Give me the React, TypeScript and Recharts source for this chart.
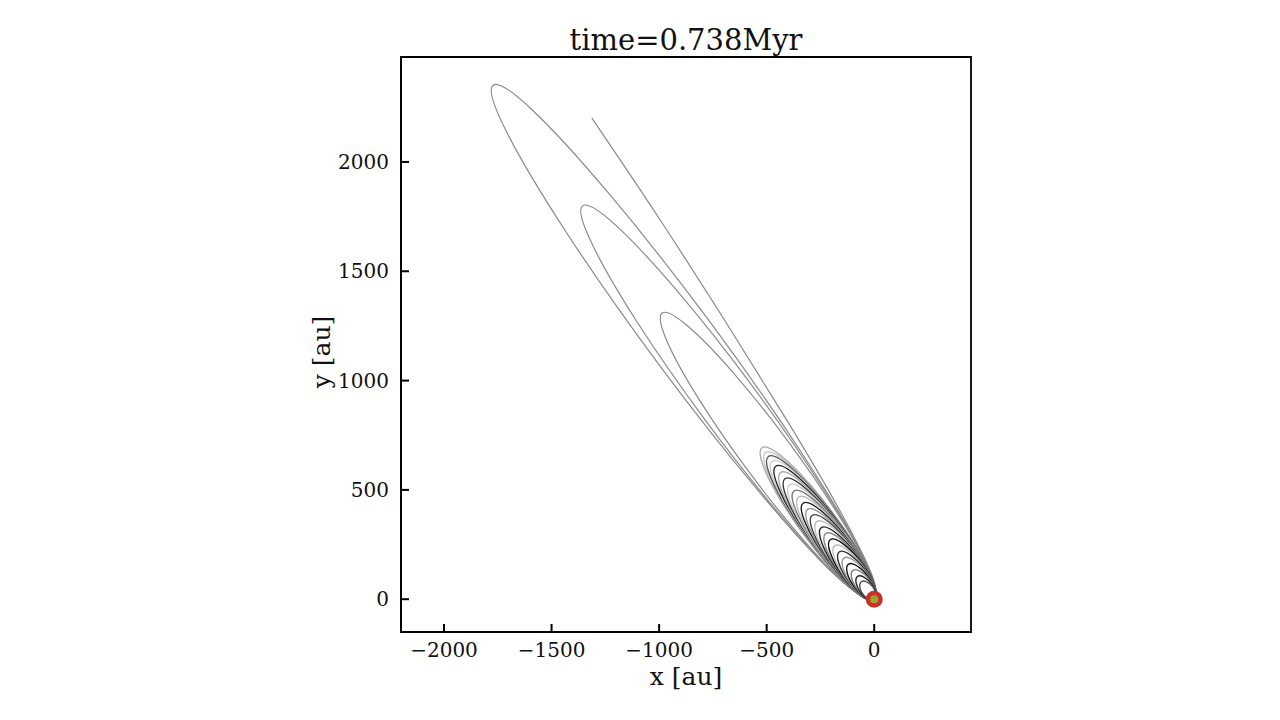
import { ComposedChart, Line, Scatter, XAxis, YAxis, ReferenceArea } from 'recharts';

const TITLE = 'time=0.738Myr';
const X_DOMAIN = [-2200, 450];
const Y_DOMAIN = [-150, 2480];
const X_TICKS = [-2000, -1500, -1000, -500, 0];
const Y_TICKS = [0, 500, 1000, 1500, 2000];

// orbit traces in au
const orbitA = [[5, -6], [-53, 198], [-333, 663], [-761, 1265], [-1222, 1842], [-1591, 2239], [-1772, 2351], [-1714, 2147], [-1434, 1682], [-1006, 1080], [-545, 503], [-176, 105], [5, -6]];
const orbitB = [[5, -6], [-33, 155], [-243, 515], [-568, 977], [-923, 1418], [-1211, 1719], [-1356, 1799], [-1318, 1638], [-1109, 1278], [-783, 816], [-428, 375], [-140, 74], [5, -6]];
const orbitC = [[5, -6], [-16, 116], [-164, 382], [-399, 720], [-659, 1040], [-874, 1255], [-986, 1309], [-966, 1186], [-818, 920], [-582, 582], [-322, 263], [-107, 47], [5, -6]];
const trackD = [[5, -6], [4, 66], [-55, 209], [-200, 476], [-407, 820], [-675, 1244], [-1004, 1748], [-1313, 2201]];

// the tight bundle of small loops near the star
const s868 = [[5, -6], [-25, 132], [-192, 394], [-398, 626], [-522, 693], [-492, 555], [-325, 293], [-119, 61], [5, -6]];
const s840 = [[5, -6], [-24, 128], [-185, 382], [-385, 607], [-506, 671], [-477, 537], [-316, 283], [-116, 58], [5, -6]];
const s817 = [[5, -6], [-22, 125], [-179, 372], [-373, 590], [-492, 653], [-465, 522], [-308, 274], [-114, 56], [5, -6]];
const s790 = [[5, -6], [-21, 121], [-172, 360], [-360, 571], [-475, 631], [-450, 504], [-299, 264], [-110, 53], [5, -6]];
const s761 = [[5, -6], [-19, 117], [-164, 348], [-346, 551], [-458, 608], [-434, 485], [-289, 254], [-107, 50], [5, -6]];
const s725 = [[5, -6], [-17, 112], [-155, 332], [-329, 526], [-436, 579], [-415, 461], [-277, 240], [-103, 47], [5, -6]];
const s690 = [[5, -6], [-15, 107], [-146, 317], [-312, 501], [-415, 551], [-396, 438], [-265, 228], [-99, 44], [5, -6]];
const s655 = [[5, -6], [-13, 102], [-137, 302], [-295, 476], [-394, 523], [-377, 415], [-253, 215], [-95, 40], [5, -6]];
const s620 = [[5, -6], [-11, 97], [-128, 287], [-278, 452], [-373, 495], [-358, 392], [-240, 202], [-90, 37], [5, -6]];
const s585 = [[5, -6], [-9, 92], [-119, 272], [-261, 427], [-352, 467], [-339, 369], [-228, 189], [-86, 34], [5, -6]];
const s550 = [[5, -6], [-7, 87], [-110, 256], [-244, 402], [-331, 439], [-319, 346], [-216, 177], [-82, 31], [5, -6]];
const s515 = [[5, -6], [-5, 82], [-101, 241], [-228, 377], [-310, 411], [-300, 323], [-204, 164], [-78, 28], [5, -6]];
const s480 = [[5, -6], [-3, 77], [-93, 226], [-211, 353], [-289, 383], [-281, 300], [-192, 151], [-73, 24], [5, -6]];
const s445 = [[5, -6], [-1, 72], [-84, 210], [-194, 328], [-268, 355], [-262, 277], [-179, 139], [-69, 21], [5, -6]];
const s410 = [[5, -6], [0, 67], [-75, 195], [-178, 303], [-247, 327], [-242, 254], [-167, 126], [-64, 18], [5, -6]];
const s375 = [[5, -6], [2, 62], [-67, 180], [-161, 278], [-226, 300], [-223, 231], [-154, 114], [-60, 15], [5, -6]];
const s340 = [[5, -6], [4, 57], [-58, 164], [-144, 253], [-205, 272], [-203, 209], [-142, 101], [-55, 12], [5, -6]];
const s305 = [[5, -6], [5, 51], [-50, 148], [-128, 228], [-184, 244], [-184, 186], [-129, 89], [-51, 9], [5, -6]];
const s270 = [[5, -6], [7, 46], [-42, 133], [-112, 203], [-163, 216], [-164, 163], [-116, 77], [-46, 6], [5, -6]];
const s235 = [[5, -6], [8, 41], [-34, 117], [-96, 178], [-141, 188], [-145, 141], [-103, 65], [-41, 4], [5, -6]];
const s200 = [[5, -6], [9, 35], [-26, 101], [-79, 152], [-120, 160], [-125, 118], [-90, 53], [-36, 1], [5, -6]];
const s165 = [[5, -6], [10, 29], [-18, 85], [-64, 127], [-99, 132], [-105, 96], [-76, 41], [-31, -2], [5, -6]];
const s130 = [[5, -6], [11, 23], [-11, 68], [-48, 101], [-78, 104], [-84, 74], [-62, 29], [-26, -4], [5, -6]];
const s100 = [[5, -6], [11, 18], [-5, 54], [-35, 79], [-60, 80], [-67, 55], [-50, 20], [-21, -6], [5, -6]];

const star = [[0, 0]];

const outer = [orbitA, orbitB, orbitC, trackD];
const inner = [s868, s840, s817, s790, s761, s725, s690, s655, s620, s585, s550, s515,
  s480, s445, s410, s375, s340, s305, s270, s235, s200, s165, s130, s100];
const innerShade = ['#a8a8a8', '#c4c4c4', '#555', '#cccccc', '#222', '#aaa', '#333', '#ccc', '#777', '#bbb', '#1a1a1a', '#999',
  '#444', '#c0c0c0', '#222', '#888', '#111', '#bbb', '#333', '#999', '#111', '#777', '#222', '#555'];

const toPts = (arr: number[][]) => arr.map(([x, y]) => ({ x, y }));
const fmt = (v: number) => (v < 0 ? `\u2212${Math.abs(v)}` : `${v}`);
const FONT = '"DejaVu Serif", serif';

// inward tick marks sit on the frame edges
const xTickMarks = X_TICKS.map(x => ({ x, y: Y_DOMAIN[0] }));
const yTickMarks = Y_TICKS.map(y => ({ x: X_DOMAIN[0], y }));

function XTick(props: any) {
  const { x, y, payload } = props;
  return (
    <text x={x} y={y + 11} dy="0.71em" textAnchor="middle" fill="#111" fontSize={20} fontFamily={FONT}>{fmt(payload.value)}</text>
  );
}

function YTick(props: any) {
  const { x, y, payload } = props;
  return (
    <text x={x - 12} y={y} dy="0.355em" textAnchor="end" fill="#111" fontSize={20} fontFamily={FONT}>{fmt(payload.value)}</text>
  );
}

const UpMark = (p: any) => <path d={`M${p.cx},${p.cy}v-8`} stroke="#000" strokeWidth={2} fill="none" />;
const RightMark = (p: any) => <path d={`M${p.cx},${p.cy}h8`} stroke="#000" strokeWidth={2} fill="none" />;

function Star(props: any) {
  const { cx, cy } = props;
  return (
    <g>
      <circle cx={cx} cy={cy} r={8.5} fill="#c9302c" />
      <circle cx={cx} cy={cy} r={4} fill="#9aa52e" />
    </g>
  );
}

export default function App() {
  return (
    <div style={{ position: 'absolute', left: 0, top: 0, width: 1280, height: 720, background: '#fff', fontFamily: FONT, color: '#111' }}>
      <div style={{ position: 'absolute', left: 0, top: 0 }}>
        <ComposedChart width={1280} height={720} margin={{ top: 57, right: 309, bottom: 38, left: 341 }}>
          <XAxis type="number" dataKey="x" domain={X_DOMAIN} ticks={X_TICKS} allowDataOverflow interval={0}
            tickSize={0} tickMargin={0} height={50} tickLine={false}
            axisLine={{ stroke: '#000', strokeWidth: 1.8 }} tick={<XTick />} />
          <YAxis type="number" dataKey="y" domain={Y_DOMAIN} ticks={Y_TICKS} allowDataOverflow interval={0}
            tickSize={0} tickMargin={0} width={60} tickLine={false}
            axisLine={{ stroke: '#000', strokeWidth: 1.8 }} tick={<YTick />} />
          <ReferenceArea x1={X_DOMAIN[0]} x2={X_DOMAIN[1]} y1={Y_DOMAIN[0]} y2={Y_DOMAIN[1]}
            fill="none" fillOpacity={0} stroke="#000" strokeWidth={1.8} strokeOpacity={1} ifOverflow="visible" />
          {outer.map((o, i) => (
            <Line key={`o${i}`} data={toPts(o)} dataKey="y" type="natural" dot={false} activeDot={false}
              stroke="#8a8a8a" strokeWidth={1.2} isAnimationActive={false} />
          ))}
          {inner.map((o, i) => (
            <Line key={`s${i}`} data={toPts(o)} dataKey="y" type="natural" dot={false} activeDot={false}
              stroke={innerShade[i]} strokeWidth={1.4} isAnimationActive={false} />
          ))}
          <Scatter data={xTickMarks} shape={UpMark} isAnimationActive={false} />
          <Scatter data={yTickMarks} shape={RightMark} isAnimationActive={false} />
          <Scatter data={toPts(star)} shape={Star} isAnimationActive={false} />
        </ComposedChart>
      </div>
      <div style={{ position: 'absolute', left: 401, width: 570, top: 22, textAlign: 'center', fontSize: 29, lineHeight: '36px' }}>{TITLE}</div>
      <div style={{ position: 'absolute', left: 401, width: 570, top: 661, textAlign: 'center', fontSize: 25, lineHeight: '32px' }}>x [au]</div>
      <div style={{ position: 'absolute', left: 222, top: 336, width: 200, height: 32, textAlign: 'center', fontSize: 25, lineHeight: '32px', transform: 'rotate(-90deg)' }}>y [au]</div>
    </div>
  );
}
